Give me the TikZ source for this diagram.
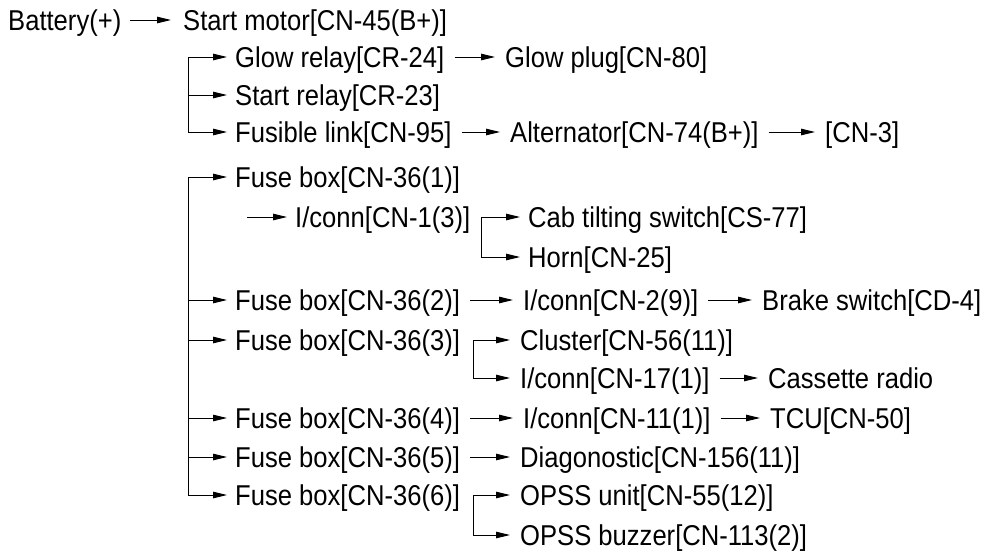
\documentclass[tikz,border=0pt]{standalone}
\usepackage{fontspec}
\setmainfont{Liberation Sans}
\usetikzlibrary{arrows.meta}
\newcommand{\tstretch}[1]{\scalebox{1}[1.12]{#1}}
\begin{document}
\begin{tikzpicture}[x=1pt,y=-1pt,
  txt/.style={anchor=west, inner sep=0pt, text height=20.5pt, text depth=0pt, font=\fontsize{25.6}{30}\selectfont},
  arr/.style={line width=0.9pt, -{Triangle[length=14pt,width=6.5pt]}},
  inl/.style={arr, shorten <=10pt, shorten >=10pt},
  lin/.style={line width=0.9pt}]
\useasboundingbox (0,0) rectangle (985,555);
% nodes
\node[txt] (bat) at (8,20) {\tstretch{Battery(+)}};
\node[txt] (sm) at (183,20) {\tstretch{Start motor[CN-45(B+)]}};
\node[txt] (glow) at (235,57) {\tstretch{Glow relay[CR-24]}};
\node[txt] (plug) at (505,57) {\tstretch{Glow plug[CN-80]}};
\node[txt] (srel) at (235,95) {\tstretch{Start relay[CR-23]}};
\node[txt] (fus) at (235,132) {\tstretch{Fusible link[CN-95]}};
\node[txt] (alt) at (510,132) {\tstretch{Alternator[CN-74(B+)]}};
\node[txt] (cn3) at (825,132) {\tstretch{[CN-3]}};
\node[txt] (fb1) at (235,177) {\tstretch{Fuse box[CN-36(1)]}};
\node[txt] (ic1) at (295,217) {\tstretch{I/conn[CN-1(3)]}};
\node[txt] (cab) at (528,217) {\tstretch{Cab tilting switch[CS-77]}};
\node[txt] (horn) at (528,257) {\tstretch{Horn[CN-25]}};
\node[txt] (fb2) at (235,300) {\tstretch{Fuse box[CN-36(2)]}};
\node[txt] (ic2) at (523,300) {\tstretch{I/conn[CN-2(9)]}};
\node[txt] (brk) at (762,300) {\tstretch{Brake switch[CD-4]}};
\node[txt] (fb3) at (235,340) {\tstretch{Fuse box[CN-36(3)]}};
\node[txt] (clu) at (520,340) {\tstretch{Cluster[CN-56(11)]}};
\node[txt] (ic17) at (520,378) {\tstretch{I/conn[CN-17(1)]}};
\node[txt] (cas) at (768,378) {\tstretch{Cassette radio}};
\node[txt] (fb4) at (235,418) {\tstretch{Fuse box[CN-36(4)]}};
\node[txt] (ic11) at (523,418) {\tstretch{I/conn[CN-11(1)]}};
\node[txt] (tcu) at (770,418) {\tstretch{TCU[CN-50]}};
\node[txt] (fb5) at (235,457) {\tstretch{Fuse box[CN-36(5)]}};
\node[txt] (diag) at (520,457) {\tstretch{Diagonostic[CN-156(11)]}};
\node[txt] (fb6) at (235,495) {\tstretch{Fuse box[CN-36(6)]}};
\node[txt] (opu) at (520,495) {\tstretch{OPSS unit[CN-55(12)]}};
\node[txt] (opb) at (520,535) {\tstretch{OPSS buzzer[CN-113(2)]}};
% bus coordinates
\coordinate (busA) at (188,0);
\coordinate (busB) at (188,0);
\coordinate (busC) at (481,0);
\coordinate (busD) at (473,0);
\coordinate (busE) at (473,0);
\coordinate (freeA) at (247,217);
% inline arrows
\draw[arr, shorten <=8pt, shorten >=12pt] (bat.east) -- (sm.west);
\draw[inl] (glow.east) -- (plug.west);
\draw[inl] (fus.east) -- (alt.west);
\draw[inl] (alt.east) -- (cn3.west);
\draw[inl] (fb2.east) -- (ic2.west);
\draw[inl] (ic2.east) -- (brk.west);
\draw[inl] (ic17.east) -- (cas.west);
\draw[inl] (fb4.east) -- (ic11.west);
\draw[inl] (ic11.east) -- (tcu.west);
\draw[inl] (fb5.east) -- (diag.west);
\draw[arr, shorten >=8pt] (freeA) -- (ic1.west);
% bracket A
\draw[lin] (busA |- glow.west) -- (busA |- fus.west);
\draw[arr, shorten >=8pt] (busA |- glow.west) -- (glow.west);
\draw[arr, shorten >=8pt] (busA |- srel.west) -- (srel.west);
\draw[arr, shorten >=8pt] (busA |- fus.west) -- (fus.west);
% bracket B
\draw[lin] (busB |- fb1.west) -- (busB |- fb6.west);
\foreach \n in {fb1,fb2,fb3,fb4,fb5,fb6}
  \draw[arr, shorten >=8pt] (busB |- \n.west) -- (\n.west);
% bracket C
\draw[lin] (busC |- cab.west) -- (busC |- horn.west);
\draw[arr, shorten >=8pt] (busC |- cab.west) -- (cab.west);
\draw[arr, shorten >=8pt] (busC |- horn.west) -- (horn.west);
% bracket D
\draw[lin] (busD |- clu.west) -- (busD |- ic17.west);
\draw[arr, shorten >=10pt] (busD |- clu.west) -- (clu.west);
\draw[arr, shorten >=10pt] (busD |- ic17.west) -- (ic17.west);
% bracket E
\draw[lin] (busE |- opu.west) -- (busE |- opb.west);
\draw[arr, shorten >=10pt] (busE |- opu.west) -- (opu.west);
\draw[arr, shorten >=10pt] (busE |- opb.west) -- (opb.west);
\end{tikzpicture}
\end{document}
